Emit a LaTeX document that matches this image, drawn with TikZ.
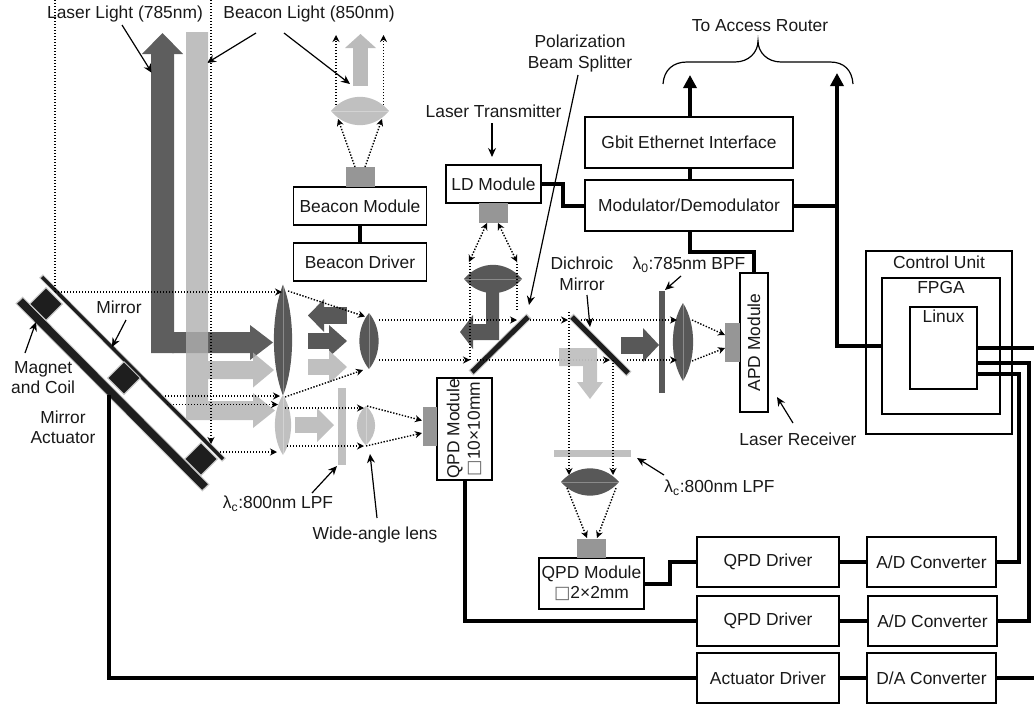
\documentclass[tikz,border=0pt]{standalone}
\usepackage{fontspec}
\setmainfont{Liberation Sans}
\newfontfamily\symfont{DejaVu Sans}
\usetikzlibrary{shapes.geometric, arrows.meta, positioning, calc}
\definecolor{beamdark}{RGB}{70, 70, 70}
\definecolor{beamlight}{RGB}{175, 175, 175}
\definecolor{lensdark}{RGB}{88, 88, 88}
\definecolor{lenslight}{RGB}{192, 192, 192}
\definecolor{chipgray}{RGB}{150, 150, 150}
\definecolor{coilblack}{RGB}{30, 30, 30}
\definecolor{edgegray}{RGB}{200, 200, 200}

\begin{document}
\begin{tikzpicture}[
    x=1pt, y=-1pt,
    font=\fontsize{17.4}{20.5}\selectfont,
    box/.style={draw, line width=1.2pt, fill=white, align=center, inner sep=0pt, outer sep=0pt, text=black!90},
    bus/.style={line width=4pt},
    busup/.style={line width=4pt, -{Triangle[length=13pt, width=13pt]}},
    rayb/.style={line width=1.4pt, dash pattern=on 1.4pt off 1.6pt},
    ray/.style={rayb, -{Stealth[length=7pt, width=7pt]}},
    pointer/.style={line width=1.2pt, -{Stealth[length=9pt, width=8pt]}},
    txt/.style={align=center, inner sep=0pt, text=black!90},
    darkbeam/.style={beamdark},
    lightbeam/.style={beamlight},
    chip/.style={fill=chipgray, draw=none, inner sep=0pt, outer sep=0pt},
    mirrorbar/.style={line width=5pt, coilblack, line cap=butt},
    mirroredge/.style={line width=7pt, edgegray, line cap=butt},
    magnet/.style={diamond, draw=edgegray, line width=1pt, fill=coilblack, minimum size=33pt, inner sep=0pt},
    vlens/.pic={
        \path[pic actions] (0,-1) .. controls (1.35,-.45) and (1.35,.45) .. (0,1)
            .. controls (-1.35,.45) and (-1.35,-.45) .. (0,-1) -- cycle;
        \draw[white, opacity=.3, line width=.6pt] (0,-1) -- (0,1);
    },
    hlens/.pic={
        \path[pic actions] (-1,0) .. controls (-.45,-1.35) and (.45,-1.35) .. (1,0)
            .. controls (.45,1.35) and (-.45,1.35) .. (-1,0) -- cycle;
        \draw[white, opacity=.3, line width=.6pt] (-1,0) -- (1,0);
    },
]
\useasboundingbox (0,0) rectangle (1034,704);

% --- Labels and their pointers (under the beams) ---
\node[txt] (laserlbl) at (125,14) {Laser Light (785nm)};
\node[txt] (beaconlbl) at (309,14) {Beacon Light (850nm)};
\draw[pointer] (122,25) -- (152,73);
\draw[pointer] (256,33) -- (207,63);
\draw[pointer] (284,33) -- (350,84);

% --- Beams from the telescope ---
\begin{scope}[transparency group, opacity=.87]
\draw[darkbeam, line width=23pt, -{Triangle[length=21pt, width=41pt, line width=0pt]}] (162.5,353) -- (162.5,33);
\draw[darkbeam, line width=21pt, -{Triangle[length=23pt, width=35pt, line width=0pt]}] (172,342.5) -- (273,342.5);
\end{scope}
\begin{scope}[transparency group, opacity=.8]
\draw[lightbeam, line width=18pt, -{Triangle[length=21pt, width=35pt, line width=0pt]}] (207,370) -- (274,370);
\draw[lightbeam, line width=19pt, -{Triangle[length=22pt, width=35pt, line width=0pt]}] (208,410.5) -- (275,410.5);
\fill[lightbeam] (186,32) rectangle (208,420);
\end{scope}

% --- Beacon optics ---
\node[box, minimum width=133pt, minimum height=38pt] (bmod) at (360,206) {Beacon Module};
\node[box, minimum width=133pt, minimum height=38pt, below=18pt of bmod] (bdrv) {Beacon Driver};
\node[chip, minimum width=29pt, minimum height=20pt, above=0pt of bmod] (bchip) {};
\draw[bus] (bmod.south) -- (bdrv.north);
\pic[fill=lenslight, xscale=29, yscale=14] at (360,111) {hlens};
\draw[lightbeam, beamlight!85!white, line width=15pt, -{Triangle[length=14pt, width=31pt, line width=0pt]}] (360.5,86) -- (360.5,34);
\draw[ray] (336,105) -- (336,35);
\draw[ray] (383.5,105) -- (383.5,35);
\draw[ray] (355,167) -- (338,119);
\draw[ray] (365,167) -- (382,119);

% --- Mirror actuator ---
\draw[mirroredge, line width=5pt] (41,276) -- (224,460);
\draw[line width=3.4pt, coilblack] (42,277) -- (223,459);
\draw[mirroredge, line width=10pt] (19,300) -- (206,488);
\draw[mirrorbar, line width=8pt] (20,301) -- (205,487);
\node[magnet] (magA) at (46,304) {};
\node[magnet] (magB) at (124,378) {};
\node[magnet] (magC) at (201,459) {};
\node[txt] (mirrorlbl) at (119,307) {Mirror};
\draw[pointer] (126,320) -- (112,347);
\node[txt, anchor=west] (magnetlbl) at (11,377.5) {Magnet\\and Coil};
\node[txt] (actlbl) at (63,427.5) {Mirror\\Actuator};
\draw[pointer] (25,353) -- (36,322);

% --- Receiving lenses ---
\pic[fill=lensdark, xscale=9, yscale=55.5] at (283,340) {vlens};
\pic[fill=lenslight, xscale=8, yscale=30] at (283,425) {vlens};
\pic[fill=lensdark, xscale=9.5, yscale=28] at (369,341) {vlens};
\pic[fill=lenslight, xscale=9, yscale=19.5] at (366,425.5) {vlens};
\draw[darkbeam, lensdark, line width=17pt, -{Triangle[length=16pt, width=33pt, line width=0pt]}] (347,315.5) -- (308,315.5);
\draw[darkbeam, lensdark, line width=16pt, -{Triangle[length=18pt, width=32pt, line width=0pt]}] (308,341) -- (347,341);
\draw[lightbeam, lenslight, line width=16pt, -{Triangle[length=18pt, width=33pt, line width=0pt]}] (308,367) -- (347,367);
\draw[lightbeam, lenslight, line width=16pt, -{Triangle[length=17pt, width=34pt, line width=0pt]}] (295,425) -- (334,425);
\fill[lenslight] (338,388) rectangle (345.5,465);

% --- Rays on the entry side ---
\draw[rayb] (55,0) -- (55,292);
\draw[ray] (211,0) -- (211,444);
\draw[ray] (55,292) -- (282,292);
\draw[ray] (165,396) -- (280,396);
\draw[ray] (167,404.5) -- (278,404.5);
\draw[ray] (220,452) -- (277,452);
\draw[ray] (288,291) -- (365,316.5);
\draw[ray] (285,397) -- (363,370);
\draw[ray] (285,408) -- (364,408);
\draw[ray] (287,446) -- (364,446);
\draw[ray] (367,406) -- (422,420.5);
\draw[ray] (366,446) -- (422,433);

% --- QPD on the wide-angle path ---
\node[box, rotate=90, minimum width=102pt, minimum height=55pt] (qpdwide) at (464.5,429) {QPD Module\\{\symfont\color{black!60}□}10×10mm};
\node[chip, minimum width=14pt, minimum height=39pt] (qwchip) at (430,426.5) {};

% --- Laser transmitter ---
\node[box, minimum width=95pt, minimum height=38pt] (ldmod) at (493.5,184) {LD Module};
\node[chip, minimum width=29pt, minimum height=20pt, below=0pt of ldmod] (ldchip) {};
\pic[fill=lensdark, xscale=29, yscale=14] at (493,279) {hlens};
\fill[lensdark] (486,290) -- (499,290) -- (499,340) -- (473,340) -- (473,349) -- (460,332) -- (473,315) -- (473,324) -- (486,324) -- cycle;
\draw[rayb, {Stealth[length=7pt, width=7pt]}-{Stealth[length=7pt, width=7pt]}] (487,223) -- (469,262);
\draw[rayb, {Stealth[length=7pt, width=7pt]}-{Stealth[length=7pt, width=7pt]}] (498,223) -- (517,262);
\draw[rayb] (470,360) -- (470,262);
\draw[rayb] (517,310) -- (517,262);
\draw[ray] (379,320) -- (517,320);
\draw[ray] (379,360) -- (470,360);
\draw[mirroredge] (471,373) -- (529,316);
\draw[mirrorbar] (472,372) -- (528,317);

% --- Dichroic split ---
\draw[ray] (477,360) -- (610,360);
\draw[ray] (530,320) -- (568,320);
\fill[lenslight, opacity=.95] (559,348) -- (597,348) -- (597,382) -- (603,382) -- (590,399) -- (577,382) -- (583,382) -- (583,366) -- (559,366) -- cycle;
\draw[darkbeam, lensdark, line width=17pt, -{Triangle[length=16pt, width=34pt, line width=0pt]}] (621,345) -- (659,345);
\fill[lensdark] (659,291) rectangle (665,393);
\pic[fill=lensdark, xscale=10, yscale=39] at (683,342) {vlens};
\draw[ray] (575,320) -- (677,320);
\draw[ray] (627,360) -- (677,360);
\draw[ray] (692,320) -- (725,335);
\draw[ray] (692,361) -- (725,348);
\draw[mirroredge] (571,316) -- (629,374);
\draw[mirrorbar] (572,317) -- (628,373);

% --- APD module ---
\node[box, rotate=90, minimum width=139pt, minimum height=28pt] (apd) at (754,342.5) {APD Module};
\node[chip, minimum width=15pt, minimum height=39pt, anchor=east] (apdchip) at (apd.north) {};

% --- Downward path to small QPD ---
\fill[lenslight] (554,450) rectangle (631,457);
\pic[fill=lensdark, xscale=29, yscale=13.5] at (590,482) {hlens};
\draw[ray] (569,312) -- (569,475);
\draw[ray] (613,360) -- (613,475);
\draw[ray] (567,488) -- (587,538);
\draw[ray] (616,488) -- (597,538);
\node[box, minimum width=105pt, minimum height=51pt] (qpdsmall) at (591.5,583.5) {QPD Module\\{\symfont\color{black!60}□}2×2mm};
\node[chip, minimum width=29pt, minimum height=19pt, above=0pt of qpdsmall] (qschip) {};

% --- Text labels ---
\node[txt] (txlbl) at (493.5,111) {Laser Transmitter};
\draw[pointer] (492,123) -- (492,157);
\node[txt] (pbslbl) at (580,53.5) {Polarization\\Beam Splitter};
\draw[pointer] (578,75) -- (529,305);
\node[txt] (dichrlbl) at (582,274) {Dichroic\\Mirror};
\draw[pointer] (587,295) -- (590,327);
\node[txt] (bpflbl) at (689,265) {λ\textsubscript{0}:785nm BPF};
\draw[pointer] (681,276) -- (665,290);
\node[txt] (lpfa) at (278,504) {λ\textsubscript{c}:800nm LPF};
\draw[pointer] (312,493) -- (337,466);
\node[txt] (lpfb) at (719.5,488) {λ\textsubscript{c}:800nm LPF};
\draw[pointer] (664,475) -- (637,458);
\node[txt] (widelbl) at (375,535) {Wide-angle lens};
\draw[pointer] (377,518) -- (370,454);
\node[txt] (rxlbl) at (798,439) {Laser Receiver};
\draw[pointer] (793,423) -- (777,397);

% --- Modem boxes ---
\node[box, minimum width=208pt, minimum height=51pt] (gbit) at (689,142.5) {Gbit Ethernet Interface};
\node[box, minimum width=208pt, minimum height=51pt, below=12pt of gbit] (modem) {Modulator/Demodulator};
\coordinate (routerA) at (690,75);
\coordinate (routerB) at (837,73);
\node[txt] (routerlbl) at (760,26) {To Access Router};
\draw[line width=1.2pt] (663,84) .. controls (664,70) and (673,62) .. (687,62) -- (735,62)
    .. controls (749,62) and (758,52) .. (758,41) .. controls (758,52) and (767,62) .. (781,62) -- (830,62)
    .. controls (844,62) and (852,70) .. (853,84);

% --- Control unit ---
\node[box, minimum width=146pt, minimum height=183pt] (ctrl) at (939,342.5) {};
\node[txt, below=5pt of ctrl.north] (ctrllbl) {Control Unit};
\node[box, minimum width=118pt, minimum height=136pt] (fpga) at (941,346) {};
\node[txt, below=3pt of fpga.north] (fpgalbl) {FPGA};
\node[box, minimum width=67pt, minimum height=82pt] (linux) at (943.5,348) {};
\node[txt, below=3pt of linux.north] (linuxlbl) {Linux};

% --- Driver row ---
\node[box, minimum width=142pt, minimum height=50pt] (qdrvA) at (768,562) {QPD Driver};
\node[box, minimum width=142pt, minimum height=50pt] (qdrvB) at (768,621) {QPD Driver};
\node[box, minimum width=142pt, minimum height=50pt] (adrv) at (768,678) {Actuator Driver};
\node[box, minimum width=129pt, minimum height=50pt] (adcA) at (931.5,562) {A/D Converter};
\node[box, minimum width=129pt, minimum height=50pt] (adcB) at (932.5,621) {A/D Converter};
\node[box, minimum width=129pt, minimum height=50pt] (dac) at (931.5,678) {D/A Converter};

% --- Electrical wiring ---
\coordinate (magtap) at (109,395);
\coordinate (edgeA) at (1034,348);
\coordinate (edgeB) at (1034,678);
\draw[bus] (ldmod.east) -- (563,184) -- (563,205.5) -- (modem.west);
\draw[busup] (gbit.north -| routerA) -- (routerA);
\draw[bus] (gbit.south -| routerA) -- (modem.north -| routerA);
\draw[bus] (modem.south -| routerA) -- (690,252) -- (754,252) -- (apd.east);
\draw[busup] (837,346) -- (routerB);
\draw[bus] (modem.east) -- (modem.east -| routerB);
\draw[bus] (835,346) -- (fpga.west |- 0,346);
\draw[bus] (qpdsmall.east) -- (670,583.5) -- (670,562) -- (qdrvA.west);
\draw[bus] (qpdwide.west) -- (qpdwide.west |- qdrvB.west) -- (qdrvB.west);
\draw[bus] (magtap) -- (magtap |- adrv.west) -- (adrv.west);
\draw[bus] (qdrvA.east) -- (adcA.west);
\draw[bus] (qdrvB.east) -- (adcB.west);
\draw[bus] (adrv.east) -- (dac.west);
\draw[bus] (dac.east) -- (edgeB);
\draw[bus] (linux.east) -- (edgeA);
\draw[bus] ([yshift=-15pt]linux.east) -- (1029,363) -- (1029,621) -- (adcB.east);
\draw[bus] ([yshift=-26pt]linux.east) -- (1019,374) -- (1019,562) -- (adcA.east);
\end{tikzpicture}
\end{document}
